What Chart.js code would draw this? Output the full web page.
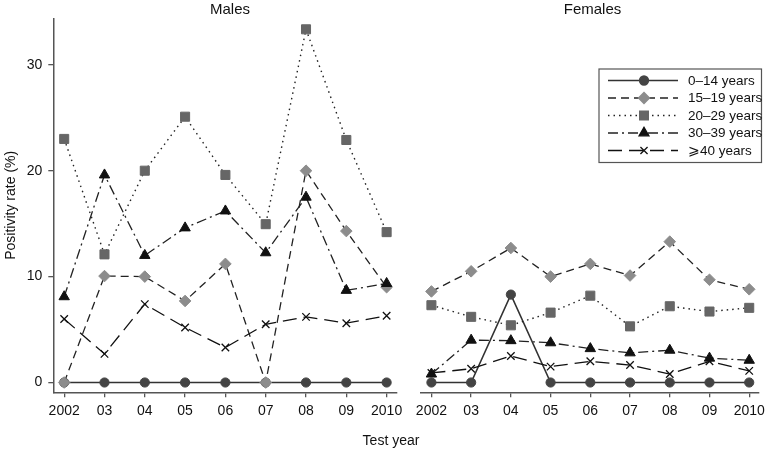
<!DOCTYPE html>
<html><head><meta charset="utf-8">
<script src="https://cdn.jsdelivr.net/npm/chart.js@4.4.1/dist/chart.umd.min.js"></script>
<style>
html,body{margin:0;padding:0;background:#fff;}
#wrap{position:relative;width:770px;height:450px;background:#fff;}
canvas{position:absolute;left:0;top:0;}
</style></head><body>
<div id="wrap"><canvas id="m" width="770" height="450"></canvas><canvas id="f" width="770" height="450"></canvas></div>
<script>
const years = [2002, 2003, 2004, 2005, 2006, 2007, 2008, 2009, 2010];
const xTickLabels = ['2002', '03', '04', '05', '06', '07', '08', '09', '2010'];
const yTickValues = [0, 10, 20, 30];
const seriesNames = ['0\u201314 years', '15\u201319 years', '20\u201329 years', '30\u201339 years', '\u2A7E40 years'];

const males0_14  = [0, 0, 0, 0, 0, 0, 0, 0, 0];
const males15_19 = [0, 10.05, 10.0, 7.7, 11.2, 0, 20.0, 14.3, 9.0];
const males20_29 = [23.0, 12.1, 20.0, 25.1, 19.6, 14.95, 33.35, 22.9, 14.2];
const males30_39 = [8.1, 19.6, 12.0, 14.6, 16.2, 12.25, 17.5, 8.7, 9.35];
const males40    = [6.0, 2.7, 7.4, 5.2, 3.3, 5.5, 6.2, 5.6, 6.3];

const females0_14  = [0, 0, 8.3, 0, 0, 0, 0, 0, 0];
const females15_19 = [8.6, 10.5, 12.7, 10.0, 11.2, 10.1, 13.3, 9.7, 8.8];
const females20_29 = [7.3, 6.2, 5.4, 6.6, 8.2, 5.3, 7.2, 6.7, 7.05];
const females30_39 = [0.8, 4.0, 3.95, 3.75, 3.2, 2.8, 3.05, 2.3, 2.1];
const females40    = [0.9, 1.3, 2.5, 1.5, 2.0, 1.65, 0.8, 2.0, 1.1];

const styles = [
  {line: '#333', fill: '#444', dash: [], point: 'circle', r: 4.6, bw: 1.6, pbw: 1},
  {line: '#222', fill: '#8c8c8c', dash: [8, 5], point: 'rectRot', r: 5.8, bw: 1.3, pbw: 1},
  {line: '#222', fill: '#666', dash: [1.5, 4], point: 'rect', r: 6.4, bw: 1.4, pbw: 1},
  {line: '#222', fill: '#111', dash: [10, 4, 2, 4], point: 'triangle', r: 6, bw: 1.3, pbw: 1},
  {line: '#111', fill: '#111', dash: [14, 7], point: 'crossRot', r: 5.3, bw: 1.3, pbw: 1.3}
];

const FONT = "'Liberation Sans', Arial, Helvetica, sans-serif";
const AXIS = '#555';
const YMIN = -0.925, YMAX = 34.39, XMIN = 2001.73, XMAX = 2010.25;

function makeDatasets(seriesList) {
  return seriesList.map((vals, i) => {
    const s = styles[i];
    return {
      label: seriesNames[i],
      data: years.map((y, j) => ({x: y, y: vals[j]})),
      borderColor: s.line,
      borderWidth: s.bw,
      borderDash: s.dash,
      pointStyle: s.point,
      pointRadius: s.r,
      pointHoverRadius: s.r,
      pointBackgroundColor: s.fill,
      pointBorderColor: s.fill,
      pointBorderWidth: s.pbw,
      tension: 0,
      fill: false,
      order: 5 - i
    };
  });
}

function xScale() {
  return {
    type: 'linear', min: XMIN, max: XMAX,
    afterBuildTicks: s => { s.ticks = years.map(v => ({value: v})); },
    afterFit: s => { s.height = 57.7; },
    ticks: {
      autoSkip: false, maxRotation: 0, padding: 5, color: '#111',
      font: {family: FONT, size: 14},
      callback: v => { const k = years.indexOf(v); return k >= 0 ? xTickLabels[k] : ''; }
    },
    grid: {drawOnChartArea: false, drawTicks: true, tickLength: 5, color: AXIS, lineWidth: 1.3},
    border: {display: true, color: AXIS, width: 1.5}
  };
}

function textPlugin(items) {
  return {
    id: 'texts',
    afterDraw(chart) {
      const ctx = chart.ctx;
      ctx.save();
      ctx.fillStyle = '#111';
      ctx.textAlign = 'center';
      ctx.textBaseline = 'middle';
      items.forEach(t => {
        ctx.font = t.size + 'px ' + FONT;
        ctx.fillText(t.text, t.x, t.y);
      });
      ctx.restore();
    }
  };
}

const legendPlugin = {
  id: 'boxLegend',
  afterDraw(chart) {
    const ctx = chart.ctx;
    ctx.save();
    ctx.strokeStyle = AXIS;
    ctx.lineWidth = 1.2;
    ctx.setLineDash([]);
    ctx.strokeRect(599, 69, 162.5, 93.5);
    chart.data.datasets.forEach((ds, i) => {
      const y = 80.5 + i * 17.5;
      ctx.setLineDash(ds.borderDash);
      ctx.strokeStyle = ds.borderColor;
      ctx.lineWidth = ds.borderWidth;
      ctx.beginPath(); ctx.moveTo(608, y); ctx.lineTo(678, y); ctx.stroke();
      ctx.setLineDash([]);
      ctx.fillStyle = ds.pointBackgroundColor;
      ctx.strokeStyle = ds.pointBorderColor;
      const opts = {pointStyle: ds.pointStyle, rotation: 0, radius: ds.pointRadius * 0.95, borderWidth: ds.pointBorderWidth};
      Chart.helpers.drawPoint(ctx, opts, 644, y);
      ctx.fillStyle = '#111';
      ctx.font = '13.5px ' + FONT;
      ctx.textAlign = 'left';
      ctx.textBaseline = 'middle';
      ctx.fillText(ds.label, 688, y + 0.5);
    });
    ctx.restore();
  }
};

const common = {
  type: 'line',
  options: {}
};

new Chart(document.getElementById('m'), {
  type: 'line',
  data: {datasets: makeDatasets([males0_14, males15_19, males20_29, males30_39, males40])},
  options: {
    responsive: false, animation: false, devicePixelRatio: 1,
    layout: {padding: {left: 0, top: 18.3, right: 373.3, bottom: 0}},
    plugins: {legend: {display: false}, tooltip: {enabled: false}, title: {display: false}},
    scales: {
      x: xScale(),
      y: {
        type: 'linear', min: YMIN, max: YMAX,
        afterBuildTicks: s => { s.ticks = yTickValues.map(v => ({value: v})); },
        afterFit: s => { s.width = 53.3; },
        ticks: {padding: 6, color: '#111', font: {family: FONT, size: 14}},
        grid: {drawOnChartArea: false, drawTicks: true, tickLength: 5, color: AXIS, lineWidth: 1.3},
        border: {display: true, color: AXIS, width: 1.5},
        title: {display: true, text: 'Positivity rate (%)', color: '#111', font: {family: FONT, size: 14}, padding: {top: 3, bottom: 0}}
      }
    }
  },
  plugins: [textPlugin([
    {text: 'Males', x: 230, y: 9.5, size: 15},
    {text: 'Test year', x: 391, y: 441, size: 14}
  ])]
});

new Chart(document.getElementById('f'), {
  type: 'line',
  data: {datasets: makeDatasets([females0_14, females15_19, females20_29, females30_39, females40])},
  options: {
    responsive: false, animation: false, devicePixelRatio: 1,
    layout: {padding: {left: 420.7, top: 18.3, right: 6.7, bottom: 0}},
    plugins: {legend: {display: false}, tooltip: {enabled: false}, title: {display: false}},
    scales: {
      x: xScale(),
      y: {type: 'linear', min: YMIN, max: YMAX, display: false}
    }
  },
  plugins: [textPlugin([{text: 'Females', x: 592.5, y: 9.5, size: 15}]), legendPlugin]
});
</script>
</body></html>
